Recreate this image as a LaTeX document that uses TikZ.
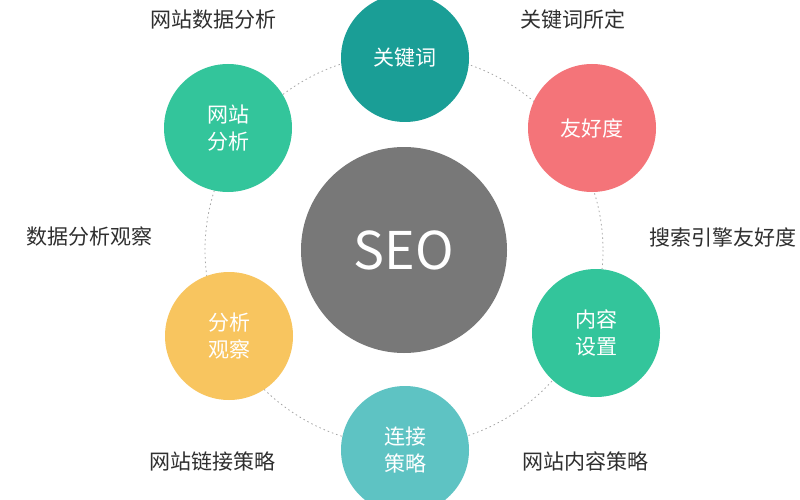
\documentclass[tikz,border=0pt]{standalone}
\usepackage{fontspec}
\setmainfont{Noto Sans CJK SC}
\newfontfamily\cjk{Noto Sans CJK SC}
\usetikzlibrary{positioning}

\definecolor{kwteal}{HTML}{1A9E96}
\definecolor{friendred}{HTML}{F47479}
\definecolor{sitegreen}{HTML}{33C59B}
\definecolor{obsyellow}{HTML}{F8C55F}
\definecolor{linkteal}{HTML}{5EC3C3}
\definecolor{seogray}{HTML}{787878}
\definecolor{labelgray}{HTML}{2F2F2F}

\tikzset{
  bubble/.style={circle, minimum size=128pt, inner sep=0pt, text=white,
    align=center, font=\cjk\fontsize{21}{27}\selectfont},
  tag/.style={text=labelgray, font=\cjk\fontsize{21}{24}\selectfont, inner sep=0pt},
  ring/.style={gray!70, line width=0.8pt, dash pattern=on 1.5pt off 3pt}
}

\begin{document}
\begin{tikzpicture}[x=1pt, y=-1pt]
    \useasboundingbox (0,0) rectangle (800,500);
    \fill[white] (0,0) rectangle (800,500);

    \coordinate (mid) at (404,250);
    \draw[ring] (mid) ellipse [x radius=199, y radius=196];

    \node[circle, fill=seogray, minimum size=206pt, text=white,
          font=\fontsize{52}{58}\selectfont] (seo) at (mid) {SEO};

    \node[bubble, fill=kwteal] (kw) at (405,58) {关键词};
    \node[bubble, fill=friendred] (friend) at (592,128) {友好度};
    \node[bubble, fill=sitegreen] (site) at (228,128) {网站\\分析};
    \node[bubble, fill=obsyellow] (obs) at (229,336) {分析\\观察};
    \node[bubble, fill=sitegreen] (content) at (596,333) {内容\\设置};
    \node[bubble, fill=linkteal] (link) at (405,450) {连接\\策略};

    \node[tag] (t1) at (213,20) {网站数据分析};
    \node[tag] (t2) at (573,20) {关键词所定};
    \node[tag] (t3) at (90,237) {数据分析观察};
    \node[tag, anchor=east] (t4) at (797,237) {搜索引擎友好度};
    \node[tag] (t5) at (212,461) {网站链接策略};
    \node[tag] (t6) at (585,461) {网站内容策略};
\end{tikzpicture}
\end{document}
